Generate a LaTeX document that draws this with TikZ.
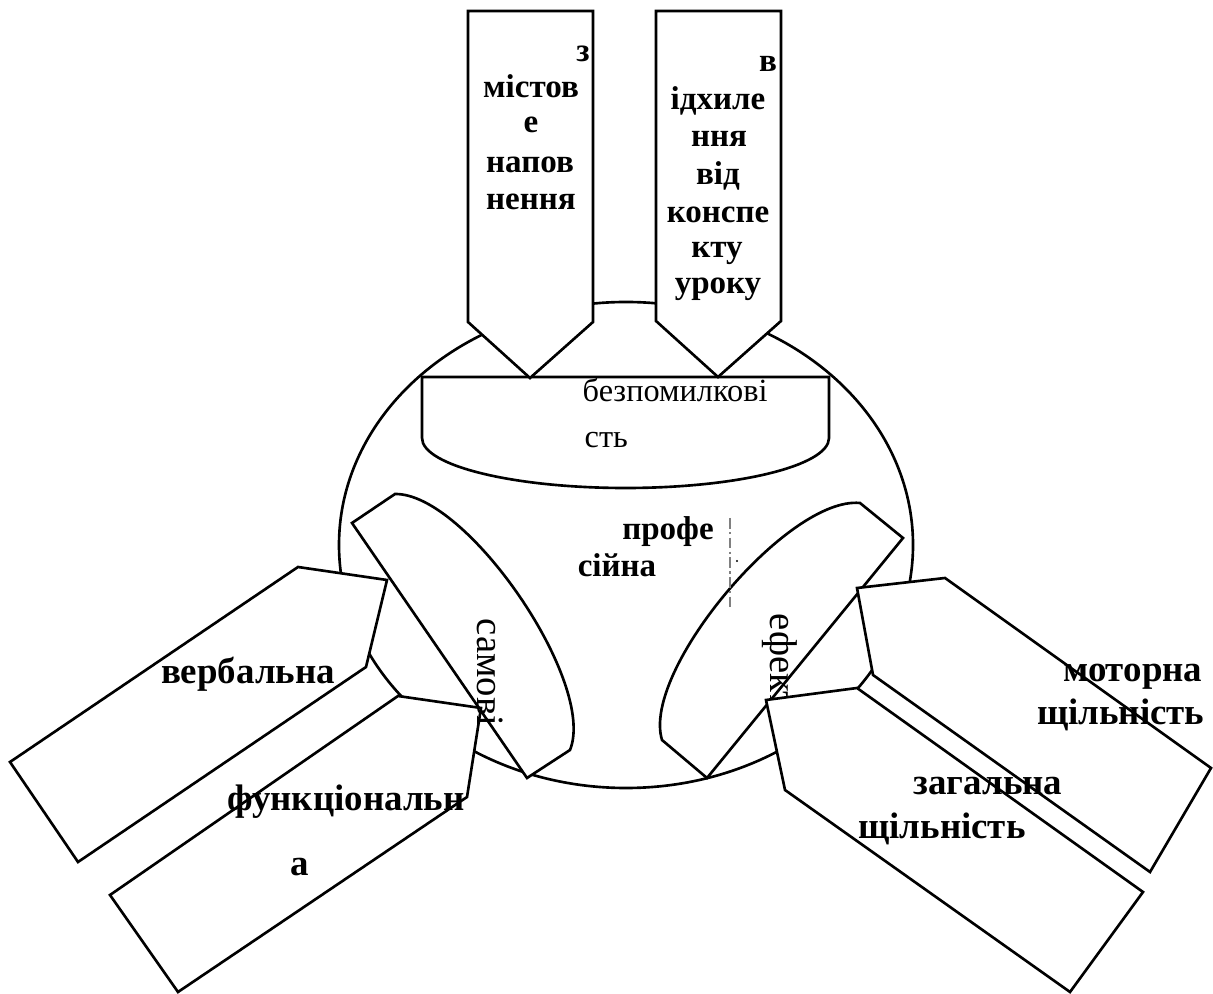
\documentclass[tikz,border=0pt]{standalone}
\usepackage{fontspec}
\setmainfont{Liberation Serif}
\usepackage{tikz}
\tikzset{shapeline/.style={draw, fill=white, line width=0.75pt}}
\tikzset{boldtext/.style={font=\bfseries\fontsize{9.4}{11}\selectfont, anchor=base, inner sep=0pt}}
\tikzset{boldbig/.style={font=\bfseries\fontsize{10.5}{12}\selectfont, anchor=base, inner sep=0pt}}
\tikzset{plaintext/.style={font=\fontsize{9.2}{11}\selectfont, anchor=base west, inner sep=0pt}}
\tikzset{sidetext/.style={font=\fontsize{11}{13}\selectfont, anchor=base west, inner sep=0pt, rotate=-90}}

\begin{document}
\begin{tikzpicture}

\useasboundingbox (0,0) rectangle (12.13,-9.94);

\draw[line width=0.75pt] (6.26,-5.45) ellipse (2.87 and 2.43);

\draw[shapeline] (4.22,-3.77) -- (8.29,-3.77) -- (8.29,-4.38) arc[start angle=0, end angle=-180, x radius=2.035, y radius=0.50] -- cycle;
\node[plaintext] (bz1) at (5.82,-4.02) {безпомилкові};
\node[plaintext] (bz2) at (5.84,-4.48) {сть};

\draw[shapeline] (3.52,-5.23) -- (3.95,-4.94) .. controls (4.67,-4.93) and (5.97,-6.83) .. (5.70,-7.50) -- (5.27,-7.78) -- cycle;

\draw[shapeline] (9.03,-5.38) -- (8.60,-5.03) .. controls (7.88,-4.96) and (6.41,-6.71) .. (6.62,-7.40) -- (7.07,-7.78) -- cycle;
\node[sidetext] (ef) at (7.70,-6.13) {ефект};

\node[boldtext] (pr1) at (6.68,-5.40) {профе};
\node[boldtext] (pr2) at (6.17,-5.77) {сійна};
\draw[gray, line width=0.3pt, dash pattern=on 3pt off 1pt on 0.6pt off 1pt] (7.30,-5.18) -- (7.30,-6.08);
\fill (7.37,-5.61) circle (0.012);

\draw[shapeline] (4.68,-0.11) -- (5.93,-0.11) -- (5.93,-3.22) -- (5.30,-3.78) -- (4.68,-3.22) -- cycle;
\node[boldtext] (zm0) at (5.83,-0.62) {з};
\node[boldtext] (zm1) at (5.31,-0.98) {містов};
\node[boldtext] (zm2) at (5.31,-1.33) {е};
\node[boldtext] (zm3) at (5.30,-1.73) {напов};
\node[boldtext] (zm4) at (5.31,-2.10) {нення};

\draw[shapeline] (6.56,-0.11) -- (7.81,-0.11) -- (7.81,-3.21) -- (7.18,-3.77) -- (6.56,-3.21) -- cycle;
\node[boldtext] (vd0) at (7.68,-0.72) {в};
\node[boldtext] (vd1) at (7.18,-1.10) {ідхиле};
\node[boldtext] (vd2) at (7.19,-1.47) {ння};
\node[boldtext] (vd3) at (7.18,-1.85) {від};
\node[boldtext] (vd4) at (7.18,-2.23) {конспе};
\node[boldtext] (vd5) at (7.17,-2.58) {кту};
\node[boldtext] (vd6) at (7.18,-2.94) {уроку};

\draw[shapeline] (0.10,-7.62) -- (2.98,-5.67) -- (3.87,-5.80) -- (3.66,-6.67) -- (0.78,-8.62) -- cycle;
\draw[shapeline] (1.10,-8.95) -- (3.98,-6.96) -- (4.81,-7.08) -- (4.67,-7.97) -- (1.78,-9.92) -- cycle;
\node[boldbig] (vb) at (2.48,-6.83) {вербальна};
\node[boldbig] (fn1) at (3.46,-8.10) {функціональн};
\node[boldbig] (fn2) at (3.00,-8.75) {а};
\node[sidetext] (sm) at (4.77,-6.18) {самові};

\draw[shapeline] (12.11,-7.68) -- (9.45,-5.78) -- (8.57,-5.88) -- (8.73,-6.75) -- (11.50,-8.72) -- cycle;
\draw[shapeline] (7.66,-7.00) -- (8.57,-6.88) -- (11.43,-8.92) -- (10.70,-9.92) -- (7.85,-7.90) -- cycle;
\node[boldbig, anchor=base east] (mt1) at (12.03,-6.82) {моторна};
\node[boldbig, anchor=base east] (mt2) at (12.05,-7.24) {щільність};
\node[boldbig] (zg1) at (9.88,-7.94) {загальна};
\node[boldbig] (zg2) at (9.42,-8.38) {щільність};

\end{tikzpicture}
\end{document}
